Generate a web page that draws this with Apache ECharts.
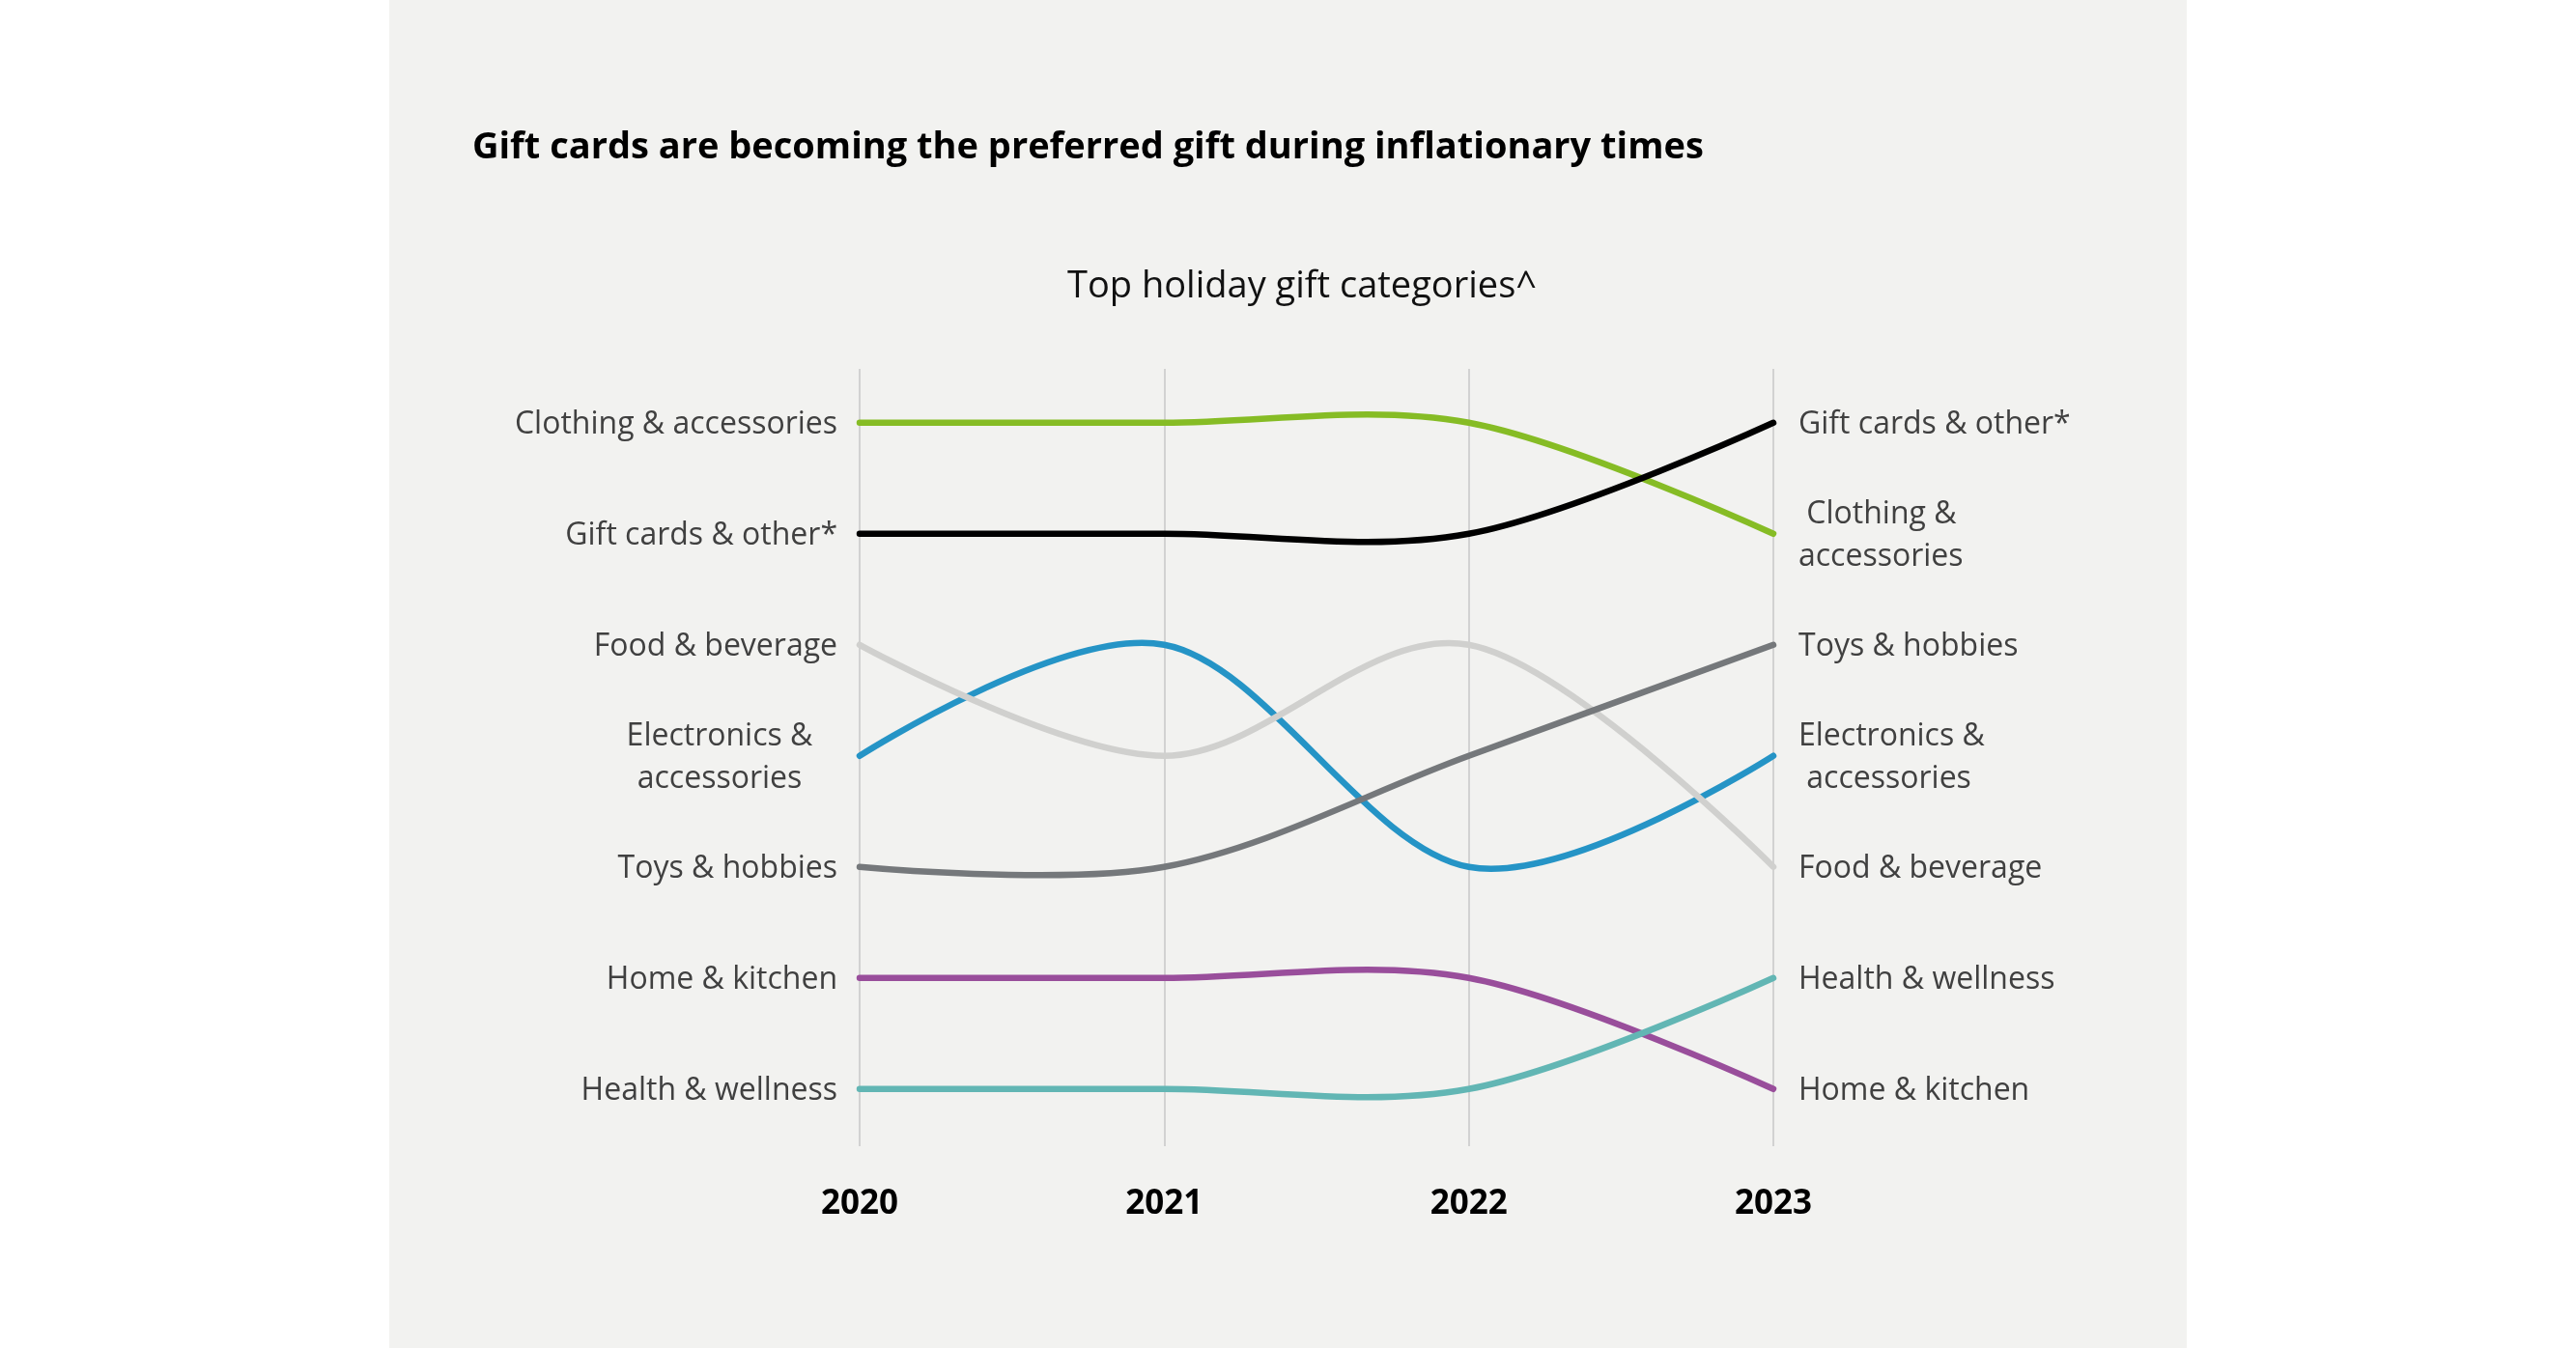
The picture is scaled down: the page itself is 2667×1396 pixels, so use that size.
<!DOCTYPE html>
<html>
<head>
<meta charset="utf-8">
<script src="https://cdn.jsdelivr.net/npm/echarts@6/dist/echarts.min.js"></script>
<style>
html,body{margin:0;padding:0;background:#ffffff;}
#chart{width:2667px;height:1396px;}
</style>
</head>
<body>
<div id="chart"></div>
<script>
// ---- data ----
const years = ['2020', '2021', '2022', '2023'];
const categoryNames = ['Clothing & accessories', 'Gift cards & other*', 'Electronics & accessories', 'Food & beverage', 'Toys & hobbies', 'Home & kitchen', 'Health & wellness'];
// rank (1 = top) per year
const clothingRanks    = [1, 1, 1, 2];
const giftCardRanks    = [2, 2, 2, 1];
const electronicsRanks = [4, 3, 5, 4];
const foodRanks        = [3, 4, 3, 5];
const toysRanks        = [5, 5, 4, 3];
const homeRanks        = [6, 6, 6, 7];
const healthRanks      = [7, 7, 7, 6];
const leftLabels  = ['Clothing & accessories', 'Gift cards & other*', 'Electronics &\naccessories', 'Food & beverage', 'Toys & hobbies', 'Home & kitchen', 'Health & wellness'];
const rightLabels = [' Clothing &\naccessories', 'Gift cards & other*', 'Electronics &\n accessories', 'Food & beverage', 'Toys & hobbies', 'Home & kitchen', 'Health & wellness'];
const titleText = 'Gift cards are becoming the preferred gift during inflationary times';
const subtitleText = 'Top holiday gift categories^';

// ---- styles ----
const rankSets = [clothingRanks, giftCardRanks, electronicsRanks, foodRanks, toysRanks, homeRanks, healthRanks];
const lineColors = ['#86bc25', '#000000', '#2594c6', '#d0d0ce', '#75787b', '#994e9b', '#62b6b4'];
const FONT = 'Open Sans';
const labelColor = '#404040';
const K = 1 / 6; // cardinal spline factor

function cardinalPath(pts) {
  const n = pts.length;
  const P = (i) => {
    if (i < 0) return pts[1];
    if (i >= n) return pts[n - 2];
    return pts[i];
  };
  let d = 'M' + pts[0][0] + ',' + pts[0][1];
  for (let i = 0; i < n - 1; i++) {
    const p0 = i === 0 ? pts[1] : P(i - 1);
    const p1 = P(i), p2 = P(i + 1);
    const p3 = i + 2 >= n ? pts[n - 2] : P(i + 2);
    const c1x = p1[0] + K * (p2[0] - p0[0]);
    const c1y = p1[1] + K * (p2[1] - p0[1]);
    const c2x = p2[0] + K * (p1[0] - p3[0]);
    const c2y = p2[1] + K * (p1[1] - p3[1]);
    d += ' C' + c1x + ',' + c1y + ' ' + c2x + ',' + c2y + ' ' + p2[0] + ',' + p2[1];
  }
  return d;
}

const chart = echarts.init(document.getElementById('chart'), null, {renderer: 'canvas'});

const series = categoryNames.map((name, i) => {
  const ranks = rankSets[i];
  return {
    type: 'custom',
    name: name,
    coordinateSystem: 'cartesian2d',
    silent: true,
    animation: false,
    clip: false,
    encode: {x: 0, y: 1},
    data: ranks.map((v, j) => [j, v]),
    renderItem: function (params, api) {
      if (params.dataIndex !== 0) return null;
      const pts = ranks.map((v, j) => api.coord([j, v]));
      const first = pts[0], last = pts[pts.length - 1];
      const centered = leftLabels[i].indexOf('\n') >= 0;
      const textBase = {fontFamily: FONT, fontSize: 32, lineHeight: 44, fill: labelColor, verticalAlign: 'middle'};
      return {
        type: 'group',
        children: [{
          type: 'path',
          shape: {pathData: cardinalPath(pts)},
          style: {stroke: lineColors[i], lineWidth: 6.5, fill: 'none', lineCap: 'round', lineJoin: 'round'}
        }, {
          type: 'text',
          x: centered ? first[0] - 145 : first[0] - 23,
          y: first[1] + 2,
          style: Object.assign({text: leftLabels[i], align: centered ? 'center' : 'right'}, textBase)
        }, {
          type: 'text',
          x: last[0] + 26,
          y: last[1] + 2,
          style: Object.assign({text: rightLabels[i], align: 'left'}, textBase)
        }]
      };
    }
  };
});

const option = {
  backgroundColor: '#ffffff',
  animation: false,
  graphic: [{
    type: 'rect',
    left: 403, top: 0, z: -10,
    shape: {width: 1861, height: 1396},
    style: {fill: '#f2f2f0'},
    silent: true
  }],
  title: [{
    text: titleText,
    left: 484, top: 129,
    textStyle: {fontFamily: FONT, fontSize: 38, fontWeight: 'bold', color: '#000000'}
  }, {
    text: subtitleText,
    left: 1343, top: 273, textAlign: 'center',
    textStyle: {fontFamily: FONT, fontSize: 38, fontWeight: 'normal', color: '#111111'}
  }],
  grid: {left: 890, right: 831, top: 382, bottom: 209, containLabel: false},
  xAxis: {
    type: 'category',
    data: years,
    boundaryGap: false,
    axisLine: {show: false},
    axisTick: {show: false},
    splitLine: {show: true, lineStyle: {color: '#d2d2d2', width: 2}},
    axisLabel: {fontFamily: FONT, fontSize: 35, fontWeight: 'bold', color: '#000000', margin: 43}
  },
  yAxis: {
    type: 'value',
    inverse: true,
    min: 0.515,
    max: 7.515,
    show: false
  },
  series: series
};
chart.setOption(option);
</script>
</body>
</html>
